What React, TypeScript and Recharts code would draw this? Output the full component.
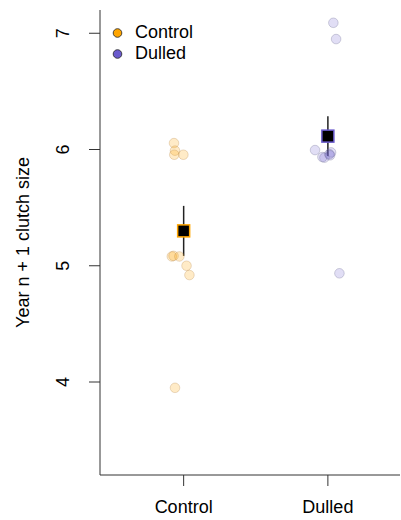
import React from 'react';
import { ComposedChart, Scatter, XAxis, YAxis, ErrorBar } from 'recharts';

// groups and colours
const groups = ['Control', 'Dulled'];
const groupColors = ['#FFA500', '#6A5ACD'];

// individual birds (x is jittered group position)
const controlX = [0.933, 0.94, 0.935, 0.998, 0.918, 0.93, 0.97, 1.02, 1.04, 0.94];
const controlY = [6.055, 5.99, 5.955, 5.955, 5.08, 5.085, 5.08, 5.0, 4.92, 3.95];
const dulledX = [2.038, 2.057, 1.911, 1.962, 1.976, 2.01, 2.022, 2.015, 2.08];
const dulledY = [7.09, 6.95, 5.995, 5.935, 5.93, 5.96, 5.975, 5.95, 4.935];

// group means and standard errors
const meanX = [1, 2];
const meanY = [5.3, 6.115];
const meanSE = [0.215, 0.17];

const yTicks = [4, 5, 6, 7];

const toPoints = (xs: number[], ys: number[]) => xs.map((x, i) => ({ x, y: ys[i] }));
const controlPts = toPoints(controlX, controlY);
const dulledPts = toPoints(dulledX, dulledY);
const meanPts = meanX.map((x, i) => ({ x, y: meanY[i], se: meanSE[i], color: groupColors[i] }));

const FONT = '"Liberation Sans", Arial, sans-serif';
const AXIS = '#333';

const YTick = (props: any) => {
  const { x, y, payload } = props;
  return (
    <text
      x={x - 24}
      y={y}
      transform={`rotate(-90 ${x - 24} ${y})`}
      textAnchor="middle"
      fontFamily={FONT}
      fontSize={18}
      fill="#000"
      dy={6}
    >
      {payload.value}
    </text>
  );
};

const XTick = (props: any) => {
  const { x, y, payload } = props;
  return (
    <text x={x} y={y + 25} textAnchor="middle" fontFamily={FONT} fontSize={18} fill="#000">
      {groups[payload.value - 1]}
    </text>
  );
};

const MeanSquare = (props: any) => {
  const { cx, cy, payload } = props;
  return <rect x={cx - 6} y={cy - 6} width={12} height={12} fill="#000" stroke={payload.color} strokeWidth={1.5} />;
};

const GroupLegend = () => (
  <div style={{ position: 'absolute', left: 108, top: 22, fontFamily: FONT, fontSize: 18, lineHeight: '21px' }}>
    {groups.map((g, i) => (
      <div key={g} style={{ display: 'flex', alignItems: 'center' }}>
        <svg width={27} height={21}>
          <circle cx={9.5} cy={11} r={4.3} fill={groupColors[i]} stroke="#222" strokeWidth={0.8} />
        </svg>
        <span>{g}</span>
      </div>
    ))}
  </div>
);

export default function App() {
  return (
    <div style={{ position: 'absolute', left: 0, top: 0, width: 401, height: 520, background: '#fff' }}>
      <ComposedChart width={401} height={520} margin={{ top: 10, right: 1, bottom: 0, left: 0 }}>
        <XAxis
          type="number"
          dataKey="x"
          domain={[0.42, 2.5]}
          ticks={[1, 2]}
          tick={<XTick />}
          tickSize={11}
          height={45}
          stroke={AXIS}
          allowDataOverflow
        />
        <YAxis
          type="number"
          dataKey="y"
          domain={[3.2, 7.2]}
          ticks={yTicks}
          tick={<YTick />}
          tickSize={11}
          width={100}
          stroke={AXIS}
          allowDataOverflow
          label={{
            value: 'Year n + 1 clutch size',
            angle: -90,
            position: 'insideLeft',
            dx: 18,
            style: { textAnchor: 'middle', fontFamily: FONT, fontSize: 18, fill: '#000' },
          }}
        />
        <Scatter
          data={controlPts}
          shape={(p: any) => <circle cx={p.cx} cy={p.cy} r={4.8} fill={groupColors[0]} fillOpacity={0.22} stroke="#B88A50" strokeOpacity={0.3} />}
          isAnimationActive={false}
        />
        <Scatter
          data={dulledPts}
          shape={(p: any) => <circle cx={p.cx} cy={p.cy} r={4.8} fill={groupColors[1]} fillOpacity={0.2} stroke="#6A6A90" strokeOpacity={0.3} />}
          isAnimationActive={false}
        />
        <Scatter data={meanPts} shape={<MeanSquare />} isAnimationActive={false}>
          <ErrorBar dataKey="se" direction="y" width={0} stroke="#222" strokeWidth={1.5} />
        </Scatter>
      </ComposedChart>
      <GroupLegend />
    </div>
  );
}
